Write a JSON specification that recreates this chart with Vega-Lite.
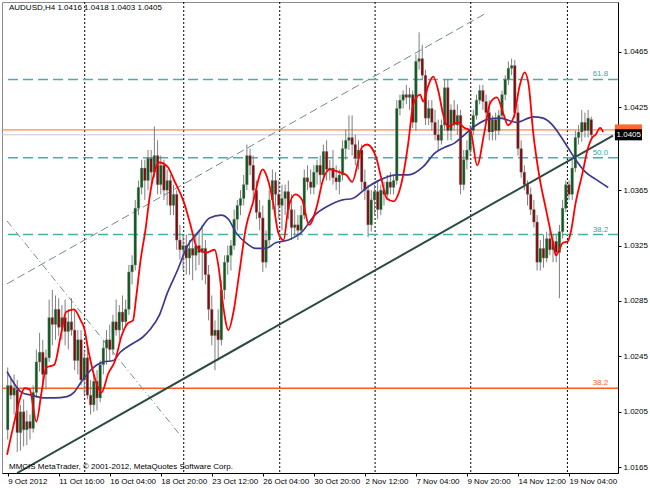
{
"$schema":"https://vega.github.io/schema/vega-lite/v6.json",
"width":616,"height":471,
"autosize":{"type":"none"},
"padding":{"left":2,"top":2,"right":32,"bottom":15},
"background":"white",
"config":{"view":{"stroke":"#8c8c8c","strokeWidth":1},"font":"Liberation Sans","text":{"font":"Liberation Sans"}},
"datasets":{
"candles":[
{"i":0,"o":1.0192,"h":1.0237,"l":1.0185,"c":1.0224},{"i":1,"o":1.0224,"h":1.0229,"l":1.0214,"c":1.0217},{"i":2,"o":1.0217,"h":1.0232,"l":1.0203,"c":1.0222},{"i":3,"o":1.0221,"h":1.0228,"l":1.0176,"c":1.019},{"i":4,"o":1.019,"h":1.021,"l":1.0177,"c":1.0205},{"i":5,"o":1.0205,"h":1.0214,"l":1.018,"c":1.0192},{"i":6,"o":1.0192,"h":1.0206,"l":1.0181,"c":1.0198},{"i":7,"o":1.0198,"h":1.0203,"l":1.0185,"c":1.0193},{"i":8,"o":1.0193,"h":1.0224,"l":1.019,"c":1.0219},{"i":9,"o":1.0219,"h":1.025,"l":1.0215,"c":1.0241},
{"i":10,"o":1.0241,"h":1.0262,"l":1.0234,"c":1.0248},{"i":11,"o":1.0248,"h":1.0257,"l":1.0222,"c":1.0232},{"i":12,"o":1.0232,"h":1.025,"l":1.0221,"c":1.0244},{"i":13,"o":1.0244,"h":1.0286,"l":1.0241,"c":1.0273},{"i":14,"o":1.0273,"h":1.0293,"l":1.0253,"c":1.0268},{"i":15,"o":1.0268,"h":1.0289,"l":1.0257,"c":1.0279},{"i":16,"o":1.0279,"h":1.0287,"l":1.026,"c":1.0266},{"i":17,"o":1.0266,"h":1.0282,"l":1.0257,"c":1.0273},{"i":18,"o":1.0273,"h":1.0286,"l":1.0253,"c":1.0263},{"i":19,"o":1.0263,"h":1.0279,"l":1.025,"c":1.027},
{"i":20,"o":1.027,"h":1.0287,"l":1.026,"c":1.0264},{"i":21,"o":1.0264,"h":1.0279,"l":1.0235,"c":1.0242},{"i":22,"o":1.0242,"h":1.0264,"l":1.0232,"c":1.0257},{"i":23,"o":1.0257,"h":1.0264,"l":1.0224,"c":1.0228},{"i":24,"o":1.0228,"h":1.025,"l":1.0217,"c":1.0244},{"i":25,"o":1.0244,"h":1.0253,"l":1.0214,"c":1.0217},{"i":26,"o":1.0217,"h":1.0228,"l":1.0203,"c":1.021},{"i":27,"o":1.021,"h":1.0232,"l":1.0205,"c":1.0227},{"i":28,"o":1.0227,"h":1.0235,"l":1.0206,"c":1.0215},{"i":29,"o":1.0215,"h":1.0242,"l":1.0212,"c":1.0239},
{"i":30,"o":1.0239,"h":1.0257,"l":1.0232,"c":1.0251},{"i":31,"o":1.0251,"h":1.0264,"l":1.0239,"c":1.0257},{"i":32,"o":1.0257,"h":1.0268,"l":1.0242,"c":1.025},{"i":33,"o":1.025,"h":1.0275,"l":1.0246,"c":1.027},{"i":34,"o":1.027,"h":1.0286,"l":1.026,"c":1.0264},{"i":35,"o":1.0264,"h":1.0282,"l":1.0257,"c":1.0277},{"i":36,"o":1.0277,"h":1.0289,"l":1.0264,"c":1.027},{"i":37,"o":1.027,"h":1.0286,"l":1.0266,"c":1.0279},{"i":38,"o":1.0279,"h":1.0311,"l":1.0275,"c":1.0306},{"i":39,"o":1.0306,"h":1.0318,"l":1.0297,"c":1.0311},
{"i":40,"o":1.0311,"h":1.0358,"l":1.0307,"c":1.0352},{"i":41,"o":1.0352,"h":1.0372,"l":1.0347,"c":1.0367},{"i":42,"o":1.0367,"h":1.0387,"l":1.0362,"c":1.0381},{"i":43,"o":1.0381,"h":1.0387,"l":1.0358,"c":1.0372},{"i":44,"o":1.0372,"h":1.0394,"l":1.0365,"c":1.0388},{"i":45,"o":1.0388,"h":1.0394,"l":1.0369,"c":1.0378},{"i":46,"o":1.0378,"h":1.0411,"l":1.0374,"c":1.039},{"i":47,"o":1.039,"h":1.0401,"l":1.0362,"c":1.0369},{"i":48,"o":1.0369,"h":1.039,"l":1.0362,"c":1.0383},{"i":49,"o":1.0383,"h":1.0387,"l":1.0358,"c":1.0365},
{"i":50,"o":1.0365,"h":1.038,"l":1.0354,"c":1.0372},{"i":51,"o":1.0372,"h":1.0376,"l":1.0347,"c":1.0354},{"i":52,"o":1.0354,"h":1.0369,"l":1.0347,"c":1.0362},{"i":53,"o":1.0362,"h":1.0365,"l":1.0322,"c":1.0329},{"i":54,"o":1.0329,"h":1.034,"l":1.0315,"c":1.0322},{"i":55,"o":1.0322,"h":1.0333,"l":1.0307,"c":1.0325},{"i":56,"o":1.0325,"h":1.0333,"l":1.0304,"c":1.0316},{"i":57,"o":1.0316,"h":1.0329,"l":1.0304,"c":1.0323},{"i":58,"o":1.0323,"h":1.0329,"l":1.03,"c":1.0318},{"i":59,"o":1.0318,"h":1.0333,"l":1.0307,"c":1.0325},
{"i":60,"o":1.0325,"h":1.0336,"l":1.0311,"c":1.032},{"i":61,"o":1.032,"h":1.034,"l":1.03,"c":1.0323},{"i":62,"o":1.0323,"h":1.0329,"l":1.0297,"c":1.0304},{"i":63,"o":1.0304,"h":1.0311,"l":1.0271,"c":1.0279},{"i":64,"o":1.0279,"h":1.0289,"l":1.0253,"c":1.026},{"i":65,"o":1.026,"h":1.0271,"l":1.0235,"c":1.0264},{"i":66,"o":1.0264,"h":1.0279,"l":1.0242,"c":1.0257},{"i":67,"o":1.0257,"h":1.03,"l":1.0253,"c":1.0293},{"i":68,"o":1.0293,"h":1.0318,"l":1.0286,"c":1.0313},{"i":69,"o":1.0313,"h":1.0325,"l":1.0304,"c":1.0318},
{"i":70,"o":1.0318,"h":1.0329,"l":1.0307,"c":1.0325},{"i":71,"o":1.0325,"h":1.0351,"l":1.0322,"c":1.0344},{"i":72,"o":1.0344,"h":1.0358,"l":1.0336,"c":1.0354},{"i":73,"o":1.0354,"h":1.0365,"l":1.0347,"c":1.0359},{"i":74,"o":1.0359,"h":1.0376,"l":1.0354,"c":1.0369},{"i":75,"o":1.0369,"h":1.0398,"l":1.0365,"c":1.039},{"i":76,"o":1.039,"h":1.0395,"l":1.0376,"c":1.0383},{"i":77,"o":1.0383,"h":1.039,"l":1.0358,"c":1.0365},{"i":78,"o":1.0365,"h":1.0372,"l":1.0344,"c":1.0349},{"i":79,"o":1.0349,"h":1.0358,"l":1.0336,"c":1.0345},
{"i":80,"o":1.0345,"h":1.0354,"l":1.0306,"c":1.0313},{"i":81,"o":1.0313,"h":1.0336,"l":1.0309,"c":1.0329},{"i":82,"o":1.0329,"h":1.0365,"l":1.0325,"c":1.0358},{"i":83,"o":1.0358,"h":1.038,"l":1.0351,"c":1.0372},{"i":84,"o":1.0372,"h":1.0378,"l":1.0347,"c":1.0362},{"i":85,"o":1.0362,"h":1.0372,"l":1.0344,"c":1.0354},{"i":86,"o":1.0354,"h":1.0369,"l":1.0336,"c":1.0359},{"i":87,"o":1.0359,"h":1.0369,"l":1.0347,"c":1.0364},{"i":88,"o":1.0364,"h":1.0372,"l":1.0344,"c":1.0351},{"i":89,"o":1.0351,"h":1.0362,"l":1.0329,"c":1.0338},
{"i":90,"o":1.0338,"h":1.0351,"l":1.0331,"c":1.034},{"i":91,"o":1.034,"h":1.0347,"l":1.0329,"c":1.0336},{"i":92,"o":1.0336,"h":1.0354,"l":1.0333,"c":1.0347},{"i":93,"o":1.0347,"h":1.038,"l":1.0344,"c":1.0374},{"i":94,"o":1.0374,"h":1.0383,"l":1.0365,"c":1.0371},{"i":95,"o":1.0371,"h":1.038,"l":1.0362,"c":1.0367},{"i":96,"o":1.0367,"h":1.0383,"l":1.0362,"c":1.0378},{"i":97,"o":1.0378,"h":1.0387,"l":1.0369,"c":1.0383},{"i":98,"o":1.0383,"h":1.039,"l":1.0369,"c":1.0376},{"i":99,"o":1.0376,"h":1.0398,"l":1.0372,"c":1.0393},
{"i":100,"o":1.0393,"h":1.0401,"l":1.0372,"c":1.038},{"i":101,"o":1.038,"h":1.0387,"l":1.0372,"c":1.0381},{"i":102,"o":1.0381,"h":1.0394,"l":1.0369,"c":1.0374},{"i":103,"o":1.0374,"h":1.0383,"l":1.0365,"c":1.0371},{"i":104,"o":1.0371,"h":1.038,"l":1.0362,"c":1.0376},{"i":105,"o":1.0376,"h":1.0401,"l":1.0372,"c":1.0395},{"i":106,"o":1.0395,"h":1.0409,"l":1.0387,"c":1.0401},{"i":107,"o":1.0401,"h":1.0419,"l":1.0394,"c":1.0403},{"i":108,"o":1.0403,"h":1.0419,"l":1.039,"c":1.0398},{"i":109,"o":1.0398,"h":1.0405,"l":1.0383,"c":1.0388},
{"i":110,"o":1.0388,"h":1.0401,"l":1.038,"c":1.0394},{"i":111,"o":1.0394,"h":1.0398,"l":1.0365,"c":1.0371},{"i":112,"o":1.0371,"h":1.038,"l":1.0358,"c":1.0365},{"i":113,"o":1.0365,"h":1.0369,"l":1.0331,"c":1.034},{"i":114,"o":1.034,"h":1.0365,"l":1.0335,"c":1.0358},{"i":115,"o":1.0358,"h":1.0369,"l":1.0347,"c":1.0364},{"i":116,"o":1.0364,"h":1.0372,"l":1.0344,"c":1.0351},{"i":117,"o":1.0351,"h":1.0369,"l":1.0347,"c":1.0365},{"i":118,"o":1.0365,"h":1.0371,"l":1.0354,"c":1.0362},{"i":119,"o":1.0362,"h":1.0376,"l":1.0358,"c":1.0371},
{"i":120,"o":1.0371,"h":1.0378,"l":1.0362,"c":1.0367},{"i":121,"o":1.0367,"h":1.0376,"l":1.0362,"c":1.0372},{"i":122,"o":1.0372,"h":1.043,"l":1.0369,"c":1.0424},{"i":123,"o":1.0424,"h":1.0434,"l":1.0419,"c":1.043},{"i":124,"o":1.043,"h":1.0437,"l":1.0424,"c":1.0434},{"i":125,"o":1.0434,"h":1.0441,"l":1.0427,"c":1.0432},{"i":126,"o":1.0432,"h":1.0439,"l":1.0423,"c":1.0434},{"i":127,"o":1.0434,"h":1.0437,"l":1.041,"c":1.0414},{"i":128,"o":1.0414,"h":1.0463,"l":1.0408,"c":1.0458},{"i":129,"o":1.0458,"h":1.0479,"l":1.0452,"c":1.046},
{"i":130,"o":1.046,"h":1.047,"l":1.0445,"c":1.0448},{"i":131,"o":1.0448,"h":1.0452,"l":1.0412,"c":1.0417},{"i":132,"o":1.0417,"h":1.043,"l":1.0412,"c":1.0424},{"i":133,"o":1.0424,"h":1.043,"l":1.0408,"c":1.0414},{"i":134,"o":1.0414,"h":1.0423,"l":1.0401,"c":1.0405},{"i":135,"o":1.0405,"h":1.0416,"l":1.0394,"c":1.0401},{"i":136,"o":1.0401,"h":1.0416,"l":1.0398,"c":1.0412},{"i":137,"o":1.0412,"h":1.0445,"l":1.0408,"c":1.0439},{"i":138,"o":1.0439,"h":1.0445,"l":1.0401,"c":1.0408},{"i":139,"o":1.0408,"h":1.0427,"l":1.0401,"c":1.0423},
{"i":140,"o":1.0423,"h":1.043,"l":1.0408,"c":1.0412},{"i":141,"o":1.0412,"h":1.0427,"l":1.0405,"c":1.0419},{"i":142,"o":1.0419,"h":1.0423,"l":1.0362,"c":1.0369},{"i":143,"o":1.0369,"h":1.0394,"l":1.0365,"c":1.0387},{"i":144,"o":1.0387,"h":1.0401,"l":1.038,"c":1.0394},{"i":145,"o":1.0394,"h":1.0412,"l":1.039,"c":1.0408},{"i":146,"o":1.0408,"h":1.0423,"l":1.0405,"c":1.0419},{"i":147,"o":1.0419,"h":1.0434,"l":1.0416,"c":1.043},{"i":148,"o":1.043,"h":1.0441,"l":1.0427,"c":1.0437},{"i":149,"o":1.0437,"h":1.0441,"l":1.0423,"c":1.0429},
{"i":150,"o":1.0429,"h":1.0434,"l":1.0416,"c":1.0421},{"i":151,"o":1.0421,"h":1.043,"l":1.0401,"c":1.0407},{"i":152,"o":1.0407,"h":1.0419,"l":1.0401,"c":1.0416},{"i":153,"o":1.0416,"h":1.0421,"l":1.0401,"c":1.0408},{"i":154,"o":1.0408,"h":1.0423,"l":1.0405,"c":1.0419},{"i":155,"o":1.0419,"h":1.0437,"l":1.0417,"c":1.0434},{"i":156,"o":1.0434,"h":1.0448,"l":1.043,"c":1.0445},{"i":157,"o":1.0445,"h":1.0458,"l":1.0441,"c":1.0453},{"i":158,"o":1.0453,"h":1.046,"l":1.0448,"c":1.0455},{"i":159,"o":1.0455,"h":1.0459,"l":1.0417,"c":1.0421},
{"i":160,"o":1.0421,"h":1.0427,"l":1.039,"c":1.0395},{"i":161,"o":1.0395,"h":1.0401,"l":1.0374,"c":1.0378},{"i":162,"o":1.0378,"h":1.0383,"l":1.0365,"c":1.0369},{"i":163,"o":1.0369,"h":1.0372,"l":1.0354,"c":1.0362},{"i":164,"o":1.0362,"h":1.0367,"l":1.0347,"c":1.0351},{"i":165,"o":1.0351,"h":1.0358,"l":1.0338,"c":1.0342},{"i":166,"o":1.0342,"h":1.0347,"l":1.0307,"c":1.0313},{"i":167,"o":1.0313,"h":1.0329,"l":1.0307,"c":1.0323},{"i":168,"o":1.0323,"h":1.0333,"l":1.0309,"c":1.0316},{"i":169,"o":1.0316,"h":1.0335,"l":1.0313,"c":1.033},
{"i":170,"o":1.033,"h":1.0336,"l":1.0318,"c":1.0322},{"i":171,"o":1.0322,"h":1.0333,"l":1.0313,"c":1.0328},{"i":172,"o":1.0328,"h":1.0333,"l":1.0313,"c":1.032},{"i":173,"o":1.032,"h":1.034,"l":1.0287,"c":1.0335},{"i":174,"o":1.0335,"h":1.0358,"l":1.033,"c":1.0352},{"i":175,"o":1.0352,"h":1.0372,"l":1.0349,"c":1.0369},{"i":176,"o":1.0369,"h":1.0372,"l":1.0358,"c":1.0362},{"i":177,"o":1.0362,"h":1.0387,"l":1.0358,"c":1.0381},{"i":178,"o":1.0381,"h":1.0408,"l":1.0378,"c":1.0403},{"i":179,"o":1.0403,"h":1.0412,"l":1.0398,"c":1.0407},
{"i":180,"o":1.0407,"h":1.0423,"l":1.04,"c":1.0414},{"i":181,"o":1.0414,"h":1.0421,"l":1.0403,"c":1.0408},{"i":182,"o":1.0408,"h":1.0423,"l":1.0403,"c":1.0417},{"i":183,"o":1.0416,"h":1.0418,"l":1.0403,"c":1.0405}
],
"red":[
{"i":-0.2,"p":1.0174},{"i":2.2,"p":1.0199},{"i":3.8,"p":1.0214},{"i":5.3,"p":1.0222},{"i":6.9,"p":1.0221},{"i":9,"p":1.0198},{"i":10.6,"p":1.0219},{"i":12.1,"p":1.0237},{"i":14.6,"p":1.0239},{"i":16.8,"p":1.0262},{"i":18.3,"p":1.0277},{"i":20.8,"p":1.0279},{"i":22.9,"p":1.0271},{"i":23.9,"p":1.0266},{"i":25.4,"p":1.0248},{"i":27.5,"p":1.0228},{"i":29.4,"p":1.0219},{"i":31.6,"p":1.0233},{"i":33.7,"p":1.0242},{"i":35.6,"p":1.0259},{"i":37.7,"p":1.0269},{"i":39.3,"p":1.0271},{"i":40.2,"p":1.0286},{"i":41.7,"p":1.0315},{"i":43.3,"p":1.0338},{"i":44.5,"p":1.036},{"i":46,"p":1.0378},{"i":47.6,"p":1.0385},{"i":50.1,"p":1.0382},{"i":52.2,"p":1.0372},{"i":55.3,"p":1.0356},{"i":57.2,"p":1.0341},{"i":59.3,"p":1.0324},{"i":62.4,"p":1.032},{"i":64.9,"p":1.0322},{"i":66.1,"p":1.031},{"i":67.6,"p":1.0281},{"i":69.2,"p":1.0264},{"i":70.7,"p":1.0276},{"i":72.6,"p":1.0305},{"i":74.7,"p":1.0338},{"i":76.9,"p":1.0356},{"i":80,"p":1.038},{"i":80.9,"p":1.0377},{"i":83.1,"p":1.0358},{"i":84.9,"p":1.0334},{"i":86.5,"p":1.0329},{"i":88,"p":1.0352},{"i":90.2,"p":1.0362},{"i":92.3,"p":1.0358},{"i":94.5,"p":1.034},{"i":97,"p":1.0354},{"i":98.8,"p":1.0372},{"i":101,"p":1.038},{"i":104,"p":1.0378},{"i":106.2,"p":1.0376},{"i":108,"p":1.0371},{"i":111.1,"p":1.0396},{"i":112.7,"p":1.0398},{"i":115.5,"p":1.0389},{"i":117,"p":1.0375},{"i":118.9,"p":1.0359},{"i":121,"p":1.0357},{"i":122.6,"p":1.0363},{"i":124.1,"p":1.0377},{"i":125.6,"p":1.0399},{"i":127.2,"p":1.0427},{"i":129.3,"p":1.0434},{"i":130.3,"p":1.0429},{"i":131.8,"p":1.044},{"i":133.4,"p":1.0447},{"i":135.2,"p":1.0435},{"i":136.4,"p":1.0421},{"i":138,"p":1.0411},{"i":141.1,"p":1.0414},{"i":143.2,"p":1.041},{"i":145.1,"p":1.0408},{"i":147.2,"p":1.0383},{"i":149.4,"p":1.0406},{"i":151.3,"p":1.0428},{"i":153.4,"p":1.0432},{"i":155.6,"p":1.0419},{"i":156.8,"p":1.0412},{"i":158.7,"p":1.0418},{"i":160.5,"p":1.044},{"i":162.1,"p":1.045},{"i":163.3,"p":1.0442},{"i":164.8,"p":1.0406},{"i":166.7,"p":1.0375},{"i":168.8,"p":1.0351},{"i":171,"p":1.0327},{"i":171.9,"p":1.0318},{"i":174.1,"p":1.0327},{"i":175.6,"p":1.0328},{"i":176.5,"p":1.0334},{"i":178.1,"p":1.0356},{"i":180.2,"p":1.0377},{"i":181.8,"p":1.0394},{"i":183.3,"p":1.0403},{"i":184.3,"p":1.0405},{"i":185.8,"p":1.041},{"i":186.7,"p":1.0407}
],
"blue":[
{"i":-0.2,"p":1.0234},{"i":1.3,"p":1.0228},{"i":4.4,"p":1.0219},{"i":7.5,"p":1.0217},{"i":11.5,"p":1.0215},{"i":14.6,"p":1.0215},{"i":18.6,"p":1.0216},{"i":20.8,"p":1.0219},{"i":22.9,"p":1.0226},{"i":26,"p":1.0235},{"i":30,"p":1.0241},{"i":33.1,"p":1.0242},{"i":35.3,"p":1.0248},{"i":38.3,"p":1.0253},{"i":42.4,"p":1.0259},{"i":44.5,"p":1.0264},{"i":47.6,"p":1.0275},{"i":50.1,"p":1.0291},{"i":53.2,"p":1.0307},{"i":56.2,"p":1.0324},{"i":60.2,"p":1.0336},{"i":63.3,"p":1.0345},{"i":67,"p":1.0347},{"i":69.2,"p":1.0344},{"i":71.7,"p":1.0334},{"i":74.7,"p":1.0327},{"i":77.8,"p":1.0323},{"i":80.9,"p":1.0323},{"i":84,"p":1.0327},{"i":88,"p":1.0329},{"i":92.3,"p":1.0335},{"i":96.3,"p":1.0347},{"i":100,"p":1.0353},{"i":105,"p":1.0358},{"i":108.1,"p":1.0359},{"i":112.7,"p":1.0367},{"i":117.3,"p":1.0373},{"i":121.9,"p":1.0376},{"i":125.6,"p":1.0376},{"i":130.3,"p":1.0382},{"i":134,"p":1.0392},{"i":137,"p":1.0396},{"i":140.1,"p":1.0399},{"i":143.2,"p":1.0405},{"i":146.3,"p":1.0411},{"i":150.3,"p":1.0416},{"i":154.3,"p":1.0417},{"i":159.6,"p":1.0414},{"i":164.8,"p":1.0418},{"i":167.9,"p":1.0417},{"i":170.4,"p":1.0413},{"i":172.8,"p":1.0406},{"i":175.6,"p":1.0396},{"i":178.1,"p":1.0387},{"i":181.2,"p":1.0378},{"i":184.3,"p":1.0373},{"i":188.3,"p":1.0367}
],
"levels":[{"p":1.0445,"label":"61.8"},{"p":1.03885,"label":"50.0"},{"p":1.0333,"label":"38.2"}],
"vlines":[{"i":24.15},{"i":55.2},{"i":85.3},{"i":115.2},{"i":145.2},{"i":175.5}],
"lines":[
{"name":"trend","i":2.96,"p":1.01608},{"name":"trend","i":189.8,"p":1.04044},
{"name":"chan","i":-0.2,"p":1.02974},{"name":"chan","i":150.3,"p":1.04932},
{"name":"dd","i":-0.2,"p":1.03428},{"name":"dd","i":55.3,"p":1.01847}
]
},
"layer":[
{"data":{"name":"vlines"},"mark":{"type":"rule","color":"#000000","strokeDash":[2,2],"strokeWidth":1},
 "encoding":{"x":{"field":"i","type":"quantitative","title":null,"scale":{"domain":[-0.216,189.8],"nice":false,"zero":false},
  "axis":{"orient":"bottom","title":null,"grid":false,"values":[0,16,32,48,64,80,96,112,128,144,160,176],
  "labelExpr":"['9 Oct 2012','11 Oct 16:00','16 Oct 04:00','18 Oct 20:00','23 Oct 12:00','26 Oct 04:00','30 Oct 20:00','2 Nov 12:00','7 Nov 04:00','9 Nov 20:00','14 Nov 12:00','19 Nov 04:00'][round(datum.value/16)]",
  "labelAlign":"left","labelFontSize":8,"labelColor":"#000000","labelFont":"Liberation Sans","labelPadding":1,"tickSize":3,"tickColor":"#000000","domainColor":"#000000","labelOverlap":false,"labelFlush":false,"labelBound":false}}}},
{"data":{"name":"levels"},"mark":{"type":"rule","color":"#45b0ac","strokeDash":[10,5],"strokeWidth":1.5},
 "encoding":{"y":{"field":"p","type":"quantitative","title":null,"scale":{"domain":[1.016081,1.050088],"nice":false,"zero":false},
  "axis":{"orient":"right","title":null,"grid":false,"values":[1.0165,1.0185,1.0205,1.0225,1.0245,1.0265,1.0285,1.0305,1.0325,1.0345,1.0365,1.0385,1.0425,1.0445,1.0465,1.0485],
  "format":".4f","labelFontSize":8,"labelColor":"#000000","labelFont":"Liberation Sans","labelPadding":2,"tickSize":3,"tickColor":"#000000","domainColor":"#000000","labelOverlap":false,"labelFlush":false,"labelBound":false}}}},
{"data":{"name":"levels"},"mark":{"type":"text","color":"#3aa6a2","align":"right","baseline":"bottom","dy":-1,"fontSize":8},
 "encoding":{"x":{"datum":188.3,"type":"quantitative","title":null},"y":{"field":"p","type":"quantitative","title":null},"text":{"field":"label"}}},
{"data":{"values":[{}]},"mark":{"type":"rule","color":"#ff5a1f","strokeWidth":1.5},
 "encoding":{"y":{"datum":1.0222,"type":"quantitative","title":null}}},
{"data":{"values":[{}]},"mark":{"type":"text","color":"#ff5a1f","align":"right","baseline":"bottom","dy":-1,"fontSize":8,"text":"38.2"},
 "encoding":{"x":{"datum":188.3,"type":"quantitative","title":null},"y":{"datum":1.0222,"type":"quantitative","title":null}}},
{"data":{"values":[{}]},"mark":{"type":"rule","color":"#c8c8c8","strokeWidth":1},
 "encoding":{"y":{"datum":1.0405,"type":"quantitative","title":null}}},
{"data":{"values":[{}]},"mark":{"type":"rule","color":"#ff6a2a","strokeWidth":1},
 "encoding":{"y":{"datum":1.04085,"type":"quantitative","title":null}}},
{"data":{"name":"lines"},"transform":[{"filter":"datum.name=='chan'"}],"mark":{"type":"line","color":"#6f8c8a","strokeDash":[8,4],"strokeWidth":1,"clip":true},
 "encoding":{"x":{"field":"i","type":"quantitative","title":null},"y":{"field":"p","type":"quantitative","title":null}}},
{"data":{"name":"lines"},"transform":[{"filter":"datum.name=='dd'"}],"mark":{"type":"line","color":"#7a8a8a","strokeDash":[7,3,1,3],"strokeWidth":1,"clip":true},
 "encoding":{"x":{"field":"i","type":"quantitative","title":null},"y":{"field":"p","type":"quantitative","title":null}}},
{"data":{"name":"candles"},"mark":{"type":"rule","color":"#7f7f7f","strokeWidth":1},
 "encoding":{"x":{"field":"i","type":"quantitative","title":null},"y":{"field":"l","type":"quantitative","title":null},"y2":{"field":"h"}}},
{"data":{"name":"candles"},"mark":{"type":"bar","size":2.6,"stroke":"#8a8a8a","strokeWidth":0.4},
 "encoding":{"x":{"field":"i","type":"quantitative","title":null},"y":{"field":"o","type":"quantitative","title":null},"y2":{"field":"c"},
  "color":{"condition":{"test":"datum.c >= datum.o","value":"#0c5a1c"},"value":"#7c0c0c"}}},
{"data":{"name":"lines"},"transform":[{"filter":"datum.name=='trend'"}],"mark":{"type":"line","color":"#2c4a44","strokeWidth":2,"clip":true},
 "encoding":{"x":{"field":"i","type":"quantitative","title":null},"y":{"field":"p","type":"quantitative","title":null}}},
{"data":{"name":"blue"},"mark":{"type":"line","color":"#3d3a8c","strokeWidth":1.7,"interpolate":"monotone","clip":true},
 "encoding":{"x":{"field":"i","type":"quantitative","title":null},"y":{"field":"p","type":"quantitative","title":null}}},
{"data":{"name":"red"},"mark":{"type":"line","color":"#ff0000","strokeWidth":1.8,"interpolate":"monotone","clip":true},
 "encoding":{"x":{"field":"i","type":"quantitative","title":null},"y":{"field":"p","type":"quantitative","title":null}}},
{"data":{"values":[{}]},"mark":{"type":"text","align":"left","baseline":"middle","fontSize":8,"color":"#000000","text":"AUDUSD,H4  1.0416 1.0418 1.0403 1.0405"},
 "encoding":{"x":{"datum":0.4,"type":"quantitative","title":null},"y":{"datum":1.04966,"type":"quantitative","title":null}}},
{"data":{"values":[{}]},"mark":{"type":"text","align":"left","baseline":"middle","fontSize":8,"color":"#000000","text":"MMCIS MetaTrader, © 2001-2012, MetaQuotes Software Corp."},
 "encoding":{"x":{"datum":0.4,"type":"quantitative","title":null},"y":{"datum":1.01652,"type":"quantitative","title":null}}},
{"data":{"values":[{}]},"mark":{"type":"rect","color":"#ff6a2a"},
 "encoding":{"x":{"datum":190.4,"type":"quantitative","title":null},"x2":{"datum":198.9},"y":{"datum":1.04045,"type":"quantitative","title":null},"y2":{"datum":1.04125}}},
{"data":{"values":[{}]},"mark":{"type":"rect","color":"#000000"},
 "encoding":{"x":{"datum":190.4,"type":"quantitative","title":null},"x2":{"datum":198.9},"y":{"datum":1.0401,"type":"quantitative","title":null},"y2":{"datum":1.0409}}},
{"data":{"values":[{}]},"mark":{"type":"text","align":"left","baseline":"middle","fontSize":8,"color":"#ffffff","text":"1.0405"},
 "encoding":{"x":{"datum":190.9,"type":"quantitative","title":null},"y":{"datum":1.0405,"type":"quantitative","title":null}}}
]
}
